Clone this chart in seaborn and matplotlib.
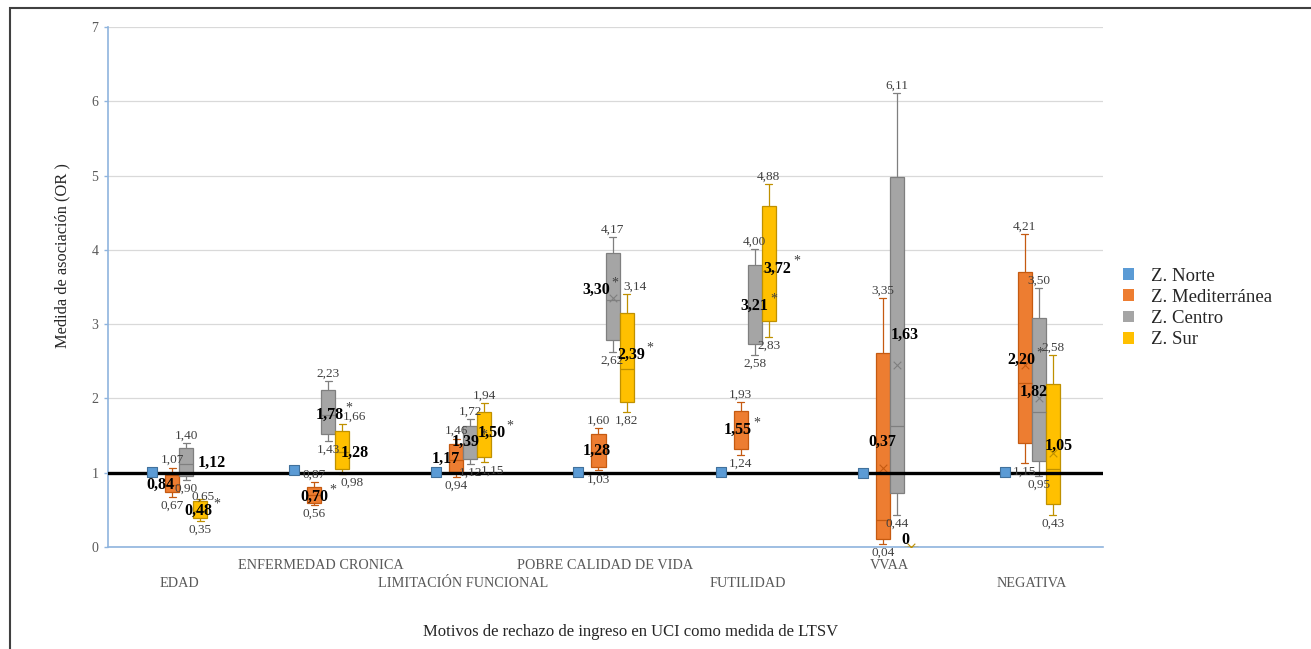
import numpy as np
import pandas as pd
import matplotlib
matplotlib.use("Agg")
import matplotlib.pyplot as plt
import seaborn as sns
from matplotlib.patches import Patch, Rectangle

# --- data -----------------------------------------------------------------
CATEGORIAS = ["EDAD", "ENFERMEDAD CRONICA", "LIMITACIÓN FUNCIONAL",
              "POBRE CALIDAD DE VIDA", "FUTILIDAD", "VVAA", "NEGATIVA"]
ZONAS = ["Z. Norte", "Z. Mediterránea", "Z. Centro", "Z. Sur"]

# Z. Norte: one OR per motive, drawn as a square
NORTE = [1.01, 1.03, 1.01, 1.01, 1.01, 1.00, 1.01]

# (min, Q1, median, Q3, max) per motive
MEDITERRANEA = [
    (0.67, 0.74, 0.84, 0.97, 1.07),
    (0.56, 0.59, 0.70, 0.81, 0.87),
    (0.94, 1.01, 1.17, 1.38, 1.46),
    (1.03, 1.08, 1.28, 1.52, 1.60),
    (1.24, 1.32, 1.55, 1.83, 1.95),
    (0.04, 0.11, 0.36, 2.61, 3.35),
    (1.13, 1.40, 2.21, 3.70, 4.21),
]
CENTRO = [
    (0.90, 0.95, 1.12, 1.33, 1.40),
    (1.43, 1.52, 1.78, 2.11, 2.23),
    (1.12, 1.18, 1.39, 1.63, 1.72),
    (2.62, 2.79, 3.32, 3.96, 4.17),
    (2.58, 2.73, 3.21, 3.80, 4.01),
    (0.43, 0.73, 1.63, 4.98, 6.11),
    (0.95, 1.16, 1.82, 3.08, 3.49),
]
SUR = [
    (0.35, 0.39, 0.48, 0.62, 0.65),
    (0.98, 1.05, 1.28, 1.56, 1.66),
    (1.15, 1.21, 1.50, 1.82, 1.94),
    (1.82, 1.95, 2.39, 3.15, 3.40),
    (2.83, 3.04, 3.72, 4.59, 4.88),
    (0.00, 0.00, 0.00, 0.00, 0.00),
    (0.43, 0.58, 1.05, 2.19, 2.58),
]

# mean markers (x) where they are visible
MED_MEDIA = [None, None, None, None, None, 1.06, 2.45]
CEN_MEDIA = [None, None, None, 3.35, None, 2.45, 2.00]
SUR_MEDIA = [None, None, None, None, None, 0.00, 1.26]

# labels
MED_MAX_TXT = ["1,07", "0,87", "1,46", "1,60", "1,93", "3,35", "4,21"]
MED_MIN_TXT = ["0,67", "0,56", "0,94", "1,03", "1,24", "0,04", "1,15"]
MED_OR_TXT = ["0,84", "0,70*", "1,17", "1,28", "1,55*", "0,37", "2,20*"]
CEN_MAX_TXT = ["1,40", "2,23", "1,72", "4,17", "4,00", "6,11", "3,50"]
CEN_MIN_TXT = ["0,90", "1,43", "1,12", "2,62", "2,58", "0,44", "0,95"]
CEN_OR_TXT = ["1,12", "1,78*", "1,39*", "3,30*", "3,21*", "1,63", "1,82"]
SUR_MAX_TXT = ["0,65", "1,66", "1,94", "3,14", "4,88", "", "2,58"]
SUR_MIN_TXT = ["0,35", "0,98", "1,15", "1,82", "2,83", "", "0,43"]
SUR_OR_TXT = ["0,48*", "1,28", "1,50*", "2,39*", "3,72*", "0", "1,05"]

# where the bold OR labels sit: (x shift in px, y in OR units)
MED_OR_POS = [(-12, 0.83), (0, 0.67), (-11, 1.18), (-2, 1.30), (-3, 1.57), (0, 1.41), (-4, 2.52)]
CEN_OR_POS = [(26, 1.13), (2, 1.78), (-5, 1.42), (-16, 3.46), (0, 3.24), (8, 2.85), (-5, 2.09)]
SUR_OR_POS = [(-2, 0.48), (13, 1.27), (7, 1.53), (5, 2.58), (9, 3.75), (-5, 0.10), (6, 1.36)]
# a few whisker labels sit beside the whisker: (dx, dy) in px
SUR_MAX_OFF = [(3, -5), (12, 0), (0, 0), (8, 0), (0, 0), (0, 0), (0, 0)]
SUR_MIN_OFF = [(0, 0), (10, 0), (8, 0), (0, 0), (0, 0), (0, 0), (0, 0)]

COLORES = {"Z. Norte": "#5B9BD5", "Z. Mediterránea": "#ED7D31",
           "Z. Centro": "#A5A5A5", "Z. Sur": "#FFC000"}
BORDES = {"Z. Norte": "#41719C", "Z. Mediterránea": "#C55A11",
          "Z. Centro": "#7F7F7F", "Z. Sur": "#BF9000"}

ANCHO = 0.394      # width of the 4-box group
NORTE_DX = -0.19   # the Norte square sits a bit left of its slot
PX = 0.72          # points per pixel at dpi 100

# --- long table for seaborn -------------------------------------------------
cajas = {"Z. Mediterránea": MEDITERRANEA, "Z. Centro": CENTRO, "Z. Sur": SUR}
filas = []
for zona, lista in cajas.items():
    for motivo, caja in zip(CATEGORIAS, lista):
        for v in caja:
            filas.append((motivo, zona, v))
df = pd.DataFrame(filas, columns=["motivo", "zona", "OR"])

sns.set_style("white")
plt.rcParams["font.family"] = ["Liberation Serif", "DejaVu Serif"]

fig = plt.figure(figsize=(13.11, 6.49), dpi=100)
ax = fig.add_axes([108 / 1311, 1 - 547 / 649, (1103 - 108) / 1311, (547 - 27) / 649])

for zona in cajas:
    sns.boxplot(data=df[df["zona"] == zona], x="motivo", y="OR", hue="zona",
                order=CATEGORIAS, hue_order=ZONAS, palette=COLORES, dodge=True,
                width=ANCHO, gap=0, whis=(0, 100), saturation=1,
                linecolor=BORDES[zona], linewidth=0.9, fliersize=0,
                legend=False, ax=ax, zorder=3)


def slot(k):
    return ANCHO * ((k + 0.5) / len(ZONAS) - 0.5)


xs = np.arange(len(CATEGORIAS))

# mean markers
for k, (zona, medias) in enumerate(zip(ZONAS[1:], [MED_MEDIA, CEN_MEDIA, SUR_MEDIA]), start=1):
    pts = [(x + slot(k), m) for x, m in zip(xs, medias) if m is not None]
    if pts:
        px_, py_ = zip(*pts)
        ax.scatter(px_, py_, marker="x", s=30, color=BORDES[zona], linewidths=0.8, zorder=4)

# reference line at OR = 1
ax.axhline(1, color="black", lw=2.4, zorder=5)

# Norte squares
sns.scatterplot(x=xs + NORTE_DX, y=NORTE, marker="s", s=55, color=COLORES["Z. Norte"],
                edgecolor=BORDES["Z. Norte"], linewidth=0.8, ax=ax, zorder=6, legend=False)

# value labels
sin_desplazar = [(0, 0)] * len(CATEGORIAS)
etiquetas = [
    (1, MEDITERRANEA, MED_MAX_TXT, MED_MIN_TXT, MED_OR_TXT, MED_OR_POS, sin_desplazar, sin_desplazar),
    (2, CENTRO, CEN_MAX_TXT, CEN_MIN_TXT, CEN_OR_TXT, CEN_OR_POS, sin_desplazar, sin_desplazar),
    (3, SUR, SUR_MAX_TXT, SUR_MIN_TXT, SUR_OR_TXT, SUR_OR_POS, SUR_MAX_OFF, SUR_MIN_OFF),
]
for k, lista, tmax, tmin, tor, pos, omax, omin in etiquetas:
    for i, caja in enumerate(lista):
        x = i + slot(k)
        if tmax[i]:
            ax.annotate(tmax[i], (x, caja[4]),
                        xytext=(omax[i][0] * PX, 1 + omax[i][1] * PX), textcoords="offset points",
                        ha="center", va="bottom", fontsize=9.5, color="#404040", zorder=8)
        if tmin[i]:
            ax.annotate(tmin[i], (x, caja[0]),
                        xytext=(omin[i][0] * PX, -2 + omin[i][1] * PX), textcoords="offset points",
                        ha="center", va="top", fontsize=9.5, color="#404040", zorder=8)
        txt = tor[i].rstrip("*")
        dx, y = pos[i]
        ax.annotate(txt, (x, y), xytext=(dx * PX, 0), textcoords="offset points",
                    ha="center", va="center", fontsize=11.5, fontweight="bold",
                    color="black", zorder=9)
        if tor[i].endswith("*"):
            ax.annotate("*", (x, y), xytext=(dx * PX + 11, 5), textcoords="offset points",
                        ha="left", va="center", fontsize=10, color="#404040", zorder=9)

# axes styling
ax.set_xlim(-0.5, len(CATEGORIAS) - 0.5)
ax.set_ylim(0, 7)
ax.set_yticks(range(0, 8))
ax.yaxis.grid(True, color="#D9D9D9", lw=0.9)
ax.set_axisbelow(True)
for s in ["top", "right"]:
    ax.spines[s].set_visible(False)
ax.spines["left"].set_color("#8FB4DE")
ax.spines["bottom"].set_color("#8FB4DE")
ax.spines["left"].set_linewidth(1.2)
ax.spines["bottom"].set_linewidth(1.2)
ax.tick_params(axis="y", left=True, length=3, width=1, color="#8FB4DE",
               labelsize=10, labelcolor="#595959", pad=4)
ax.set_xticks(xs)
ax.set_xticklabels([])
ax.tick_params(axis="x", length=0)
ax.set_xlabel("")
ax.set_ylabel("")

# staggered category names
for i, nombre in enumerate(CATEGORIAS):
    off = -13 if i % 2 else -26
    ax.annotate(nombre, (i, 0), xycoords=ax.get_xaxis_transform(), xytext=(0, off),
                textcoords="offset points", ha="center", va="center",
                fontsize=10.3, color="#595959")

fig.text(631 / 1311, 1 - 632 / 649, "Motivos de rechazo de ingreso en UCI como medida de LTSV",
         ha="center", va="center", fontsize=12, color="#262626")
fig.text(62 / 1311, 1 - 256 / 649, "Medida de asociación (OR )", rotation=90,
         ha="center", va="center", fontsize=11.8, color="#262626")

manijas = [Patch(facecolor=COLORES[z], edgecolor="none") for z in ZONAS]
fig.legend(manijas, ZONAS, loc="center left", bbox_to_anchor=(1106 / 1311, 1 - 308 / 649),
           frameon=False, fontsize=13.5, handlelength=0.6, handleheight=0.6,
           handletextpad=0.9, labelspacing=0.22, labelcolor="#262626")

# outer frame of the original picture
fig.patches.append(Rectangle((10 / 1311, -1), 2, 1 + 1 - 8 / 649, transform=fig.transFigure,
                             fill=False, lw=1.5, edgecolor="#404040"))

fig.savefig("out.png", dpi=100)
